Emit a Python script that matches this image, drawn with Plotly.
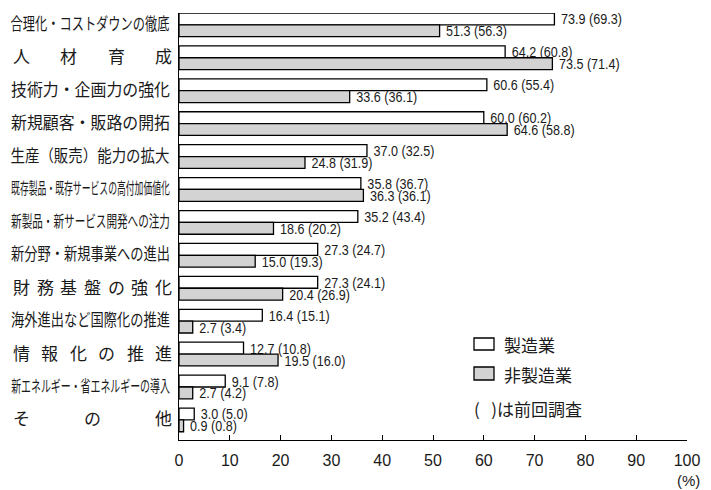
import json
import plotly.graph_objects as go

categories = [
    "合理化・コストダウンの徹底",
    "人材育成",
    "技術力・企画力の強化",
    "新規顧客・販路の開拓",
    "生産（販売）能力の拡大",
    "既存製品・既存サービスの高付加価値化",
    "新製品・新サービス開発への注力",
    "新分野・新規事業への進出",
    "財務基盤の強化",
    "海外進出など国際化の推進",
    "情報化の推進",
    "新エネルギー・省エネルギーの導入",
    "その他",
]
spread = [False, True, False, False, False, False, False, False, True, False, True, False, True]
label_size = [16.5, 17, 16.5, 16.5, 16.5, 16, 16, 16.5, 17, 16.5, 17, 16, 17]

mfg = [73.9, 64.2, 60.6, 60.0, 37.0, 35.8, 35.2, 27.3, 27.3, 16.4, 12.7, 9.1, 3.0]
mfg_prev = [69.3, 60.8, 55.4, 60.2, 32.5, 36.7, 43.4, 24.7, 24.1, 15.1, 10.8, 7.8, 5.0]
nonmfg = [51.3, 73.5, 33.6, 64.6, 24.8, 36.3, 18.6, 15.0, 20.4, 2.7, 19.5, 2.7, 0.9]
nonmfg_prev = [56.3, 71.4, 36.1, 58.8, 31.9, 36.1, 20.2, 19.3, 26.9, 3.4, 16.0, 4.2, 0.8]

series_names = ["製造業", "非製造業"]
x_ticks = list(range(0, 101, 10))

W, H = 711, 490
ML, MR, MT, MB = 179, 24, 13, 50
PW, PH = W - ML - MR, H - MT - MB

def px2x(px):
    return (px - ML) / PW

def px2y(py):
    return (H - MB - py) / PH

JP = "Noto Sans CJK JP"
NUM = "Liberation Sans, Arial"
TXT = "#1a1a1a"
GREY = "#d3d3d3"

ypos = list(range(len(categories)))

def labels(vals, prev):
    return ["\u00a0%.1f (%.1f)" % (v, p) for v, p in zip(vals, prev)]

fig = go.Figure()
fig.add_bar(
    y=ypos, x=mfg, orientation="h", name=series_names[0],
    marker=dict(color="white", line=dict(color="black", width=1.3)),
    text=labels(mfg, mfg_prev), textposition="outside",
    textfont=dict(family=NUM, size=15, color=TXT),
    cliponaxis=False, constraintext="none",
)
fig.add_bar(
    y=ypos, x=nonmfg, orientation="h", name=series_names[1],
    marker=dict(color=GREY, line=dict(color="black", width=1.3)),
    text=labels(nonmfg, nonmfg_prev), textposition="outside",
    textfont=dict(family=NUM, size=15, color=TXT),
    cliponaxis=False, constraintext="none",
)

annotations = []
LEFT, RIGHT = 13, 172
squeeze_labels = []
for i, (cat, sp, fs) in enumerate(zip(categories, spread, label_size)):
    if sp:
        n = len(cat)
        c0, c1 = LEFT + fs / 2, RIGHT - fs / 2
        for k, ch in enumerate(cat):
            cx = c0 + (c1 - c0) * k / (n - 1)
            annotations.append(dict(
                x=px2x(cx), xref="paper", y=i, yref="y", text=ch,
                showarrow=False, xanchor="center", yanchor="middle", yshift=2,
                font=dict(family=JP, size=fs, color=TXT),
            ))
    else:
        squeeze_labels.append(cat)
        annotations.append(dict(
            x=px2x(RIGHT), xref="paper", y=i, yref="y", text=cat,
            showarrow=False, xanchor="right", yanchor="middle", yshift=2,
            font=dict(family=JP, size=fs, color=TXT),
        ))

# legend
annotations.append(dict(x=px2x(502), y=px2y(344), xref="paper", yref="paper",
                        text=series_names[0], showarrow=False, xanchor="left", yanchor="middle",
                        font=dict(family=JP, size=17, color=TXT)))
annotations.append(dict(x=px2x(502), y=px2y(374), xref="paper", yref="paper",
                        text=series_names[1], showarrow=False, xanchor="left", yanchor="middle",
                        font=dict(family=JP, size=17, color=TXT)))
annotations.append(dict(x=px2x(472), y=px2y(408), xref="paper", yref="paper",
                        text="(\u00a0\u00a0\u00a0)は前回調査", showarrow=False, xanchor="left", yanchor="middle",
                        font=dict(family=JP, size=17, color=TXT)))
annotations.append(dict(x=px2x(688), y=px2y(481), xref="paper", yref="paper",
                        text="(%)", showarrow=False, xanchor="center", yanchor="middle",
                        font=dict(family="Liberation Sans, Arial", size=15, color=TXT)))

shapes = [
    dict(type="rect", xref="paper", yref="paper", x0=px2x(474), x1=px2x(494),
         y0=px2y(350), y1=px2y(338), fillcolor="white", line=dict(color="black", width=1.3)),
    dict(type="rect", xref="paper", yref="paper", x0=px2x(474), x1=px2x(494),
         y0=px2y(380), y1=px2y(367), fillcolor=GREY, line=dict(color="black", width=1.3)),
]

fig.update_layout(
    width=W, height=H,
    margin=dict(l=ML, r=MR, t=MT, b=MB, pad=0),
    paper_bgcolor="white", plot_bgcolor="white",
    barmode="group", bargap=0.28, bargroupgap=0,
    showlegend=False,
    annotations=annotations, shapes=shapes,
    xaxis=dict(
        range=[0, 100], tickvals=x_ticks, ticktext=[str(t) for t in x_ticks],
        ticks="inside", ticklen=5, tickwidth=1.3, tickcolor="black",
        showline=True, linecolor="black", linewidth=1.3, showgrid=False, zeroline=False,
        tickfont=dict(family="Liberation Sans, Arial", size=16, color=TXT),
        ticklabelstandoff=6,
    ),
    yaxis=dict(
        range=[12.61, -0.36], showticklabels=False, ticks="",
        showline=True, linecolor="black", linewidth=1.3, showgrid=False, zeroline=False,
    ),
)

# condense the long category labels to the label column width, and the value labels
post_js = """
var gd = document.querySelector('.js-plotly-plot');
var targets = %s;
var target_w = %d;
function squeeze(el, s, right) {
  var b = el.getBBox();
  var ax = right ? b.x + b.width : b.x;
  var t = el.getAttribute('transform') || '';
  el.setAttribute('transform', t + ' translate(' + ax + ',0) scale(' + s + ',1) translate(' + (-ax) + ',0)');
}
gd.querySelectorAll('.annotation-text').forEach(function(el) {
  if (targets.indexOf(el.textContent) >= 0) {
    var b = el.getBBox();
    squeeze(el, target_w / b.width, true);
  }
});
gd.querySelectorAll('text.bartext').forEach(function(el) { squeeze(el, 0.84, false); });
""" % (json.dumps(squeeze_labels, ensure_ascii=False), RIGHT - LEFT)

fig.write_html("out.html", post_script=post_js)
